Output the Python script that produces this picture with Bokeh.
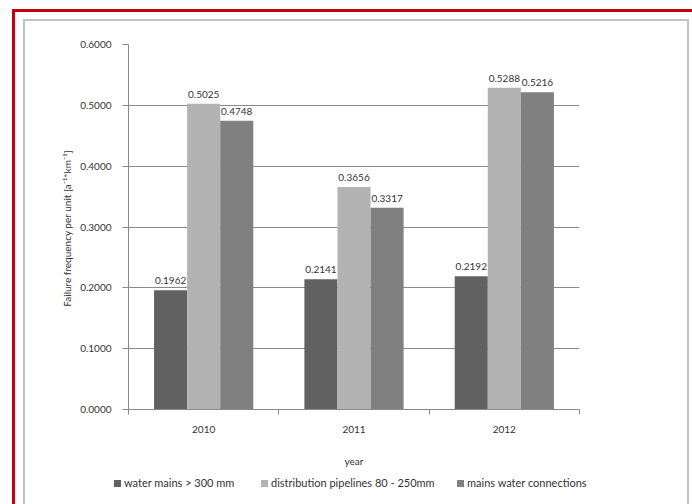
import html
from bokeh.plotting import figure
from bokeh.layouts import column
from bokeh.models import (ColumnDataSource, FixedTicker, Range1d, PrintfTickFormatter, Div)
from bokeh.core.properties import value
from bokeh.embed import file_html
from bokeh.resources import INLINE

years = ["2010", "2011", "2012"]
water_mains = [0.1962, 0.2141, 0.2192]
distribution = [0.5025, 0.3656, 0.5288]
connections = [0.4748, 0.3317, 0.5216]
series_names = ["water mains > 300 mm", "distribution pipelines 80 - 250mm",
                "mains water connections"]
series_colors = ["#616161", "#b3b3b3", "#808080"]
y_ticks = [0.0, 0.1, 0.2, 0.3, 0.4, 0.5, 0.6]

FONT = "Lato"
TXT = "#333333"
GRID = "#8a8a8a"

p = figure(width=656, height=451, output_backend="svg", toolbar_location=None,
           x_range=Range1d(0, len(years)), y_range=Range1d(0, 0.6),
           min_border_left=105, min_border_right=100,
           min_border_top=25, min_border_bottom=61)
p.outline_line_color = None
p.background_fill_color = "white"
p.border_fill_color = None

bar_w = 0.22
offsets = [-bar_w, 0.0, bar_w]
for vals, off, col in zip([water_mains, distribution, connections], offsets, series_colors):
    xs = [i + 0.5 + off for i in range(len(years))]
    src = ColumnDataSource(dict(x=xs, top=vals, lab=[f"{v:.4f}" for v in vals]))
    p.vbar(x="x", top="top", width=bar_w, bottom=0, source=src,
           fill_color=col, line_color=None)
    p.text(x="x", y="top", text="lab", source=src, text_align="center",
           text_baseline="bottom", y_offset=-6, text_font=value(FONT),
           text_font_size="10px", text_color=TXT)

# axes
xa = p.xaxis[0]
xa.ticker = FixedTicker(ticks=[i + 0.5 for i in range(len(years))],
                        minor_ticks=list(range(len(years) + 1)))
xa.major_label_overrides = {i + 0.5: y for i, y in enumerate(years)}
xa.major_tick_out = 0
xa.major_tick_in = 0
xa.minor_tick_out = 5
xa.minor_tick_in = 0
xa.minor_tick_line_color = GRID
xa.axis_line_color = GRID
xa.major_label_standoff = 11
xa.major_label_text_font = FONT
xa.major_label_text_font_size = "10px"
xa.major_label_text_color = TXT
xa.axis_label = "year"
xa.axis_label_standoff = 19
xa.axis_label_text_font = FONT
xa.axis_label_text_font_size = "10px"
xa.axis_label_text_font_style = "normal"
xa.axis_label_text_color = TXT

ya = p.yaxis[0]
ya.ticker = FixedTicker(ticks=y_ticks)
ya.formatter = PrintfTickFormatter(format="%.4f")
ya.major_tick_out = 6
ya.major_tick_in = 0
ya.minor_tick_out = 0
ya.minor_tick_in = 0
ya.major_tick_line_color = GRID
ya.axis_line_color = GRID
ya.major_label_standoff = 11
ya.major_label_text_font = FONT
ya.major_label_text_font_size = "10px"
ya.major_label_text_color = TXT
ya.axis_label = "Failure frequency per unit  [a\u207b\u00b9*km\u207b\u00b9]"
ya.axis_label_standoff = 4
ya.axis_label_text_font = FONT
ya.axis_label_text_font_size = "10px"
ya.axis_label_text_font_style = "normal"
ya.axis_label_text_color = TXT

p.xgrid.grid_line_color = None
p.ygrid.grid_line_color = GRID
p.ygrid.grid_line_width = 1

# legend strip below the chart (HTML text, built from the series lists)
item_widths = [147, 196, 200]
items = []
for name, colr, w in zip(series_names, series_colors, item_widths):
    items.append(
        f'<span style="display:inline-block;width:{w}px;white-space:nowrap;">'
        f'<span style="display:inline-block;width:7px;height:7px;background:{colr};'
        f'margin-right:3px;vertical-align:0px;"></span>{html.escape(name)}</span>'
    )
legend_html = (
    f'<div style="padding-left:86px;padding-top:0px;font-family:{FONT};font-size:11px;'
    f'line-height:12px;color:{TXT};white-space:nowrap;">' + "".join(items) + "</div>"
)
leg = Div(text=legend_html, width=656, height=33)

layout = column(p, leg, spacing=0)
layout.styles = {
    "margin-left": "23px",
    "margin-top": "19px",
    "background-color": "white",
    "box-shadow": "inset 0 0 0 2px #c2c2c2, -1px 0 0 7px white, -1px 0 0 10px #c8000f",
}

open("out.html", "w").write(file_html(layout, INLINE))
